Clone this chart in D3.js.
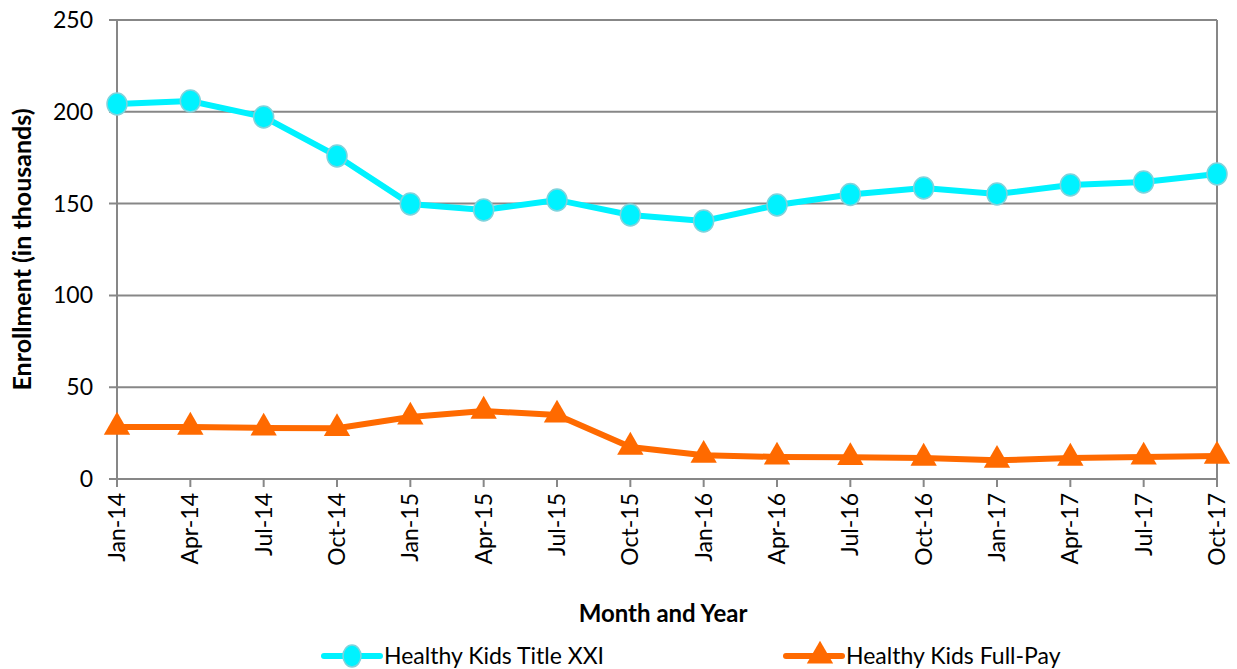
<!DOCTYPE html>
<html>
<head>
<meta charset="utf-8">
<script src="https://cdn.jsdelivr.net/npm/d3@7"></script>
<style>
  body { margin: 0; background: #fff; }
  svg text { font-family: Lato, "Open Sans", "Liberation Sans", sans-serif; fill: #000; }
</style>
</head>
<body>
<svg width="1237" height="669"></svg>
<script>
// categories and series
var months = ['Jan-14', 'Apr-14', 'Jul-14', 'Oct-14', 'Jan-15', 'Apr-15', 'Jul-15', 'Oct-15',
  'Jan-16', 'Apr-16', 'Jul-16', 'Oct-16', 'Jan-17', 'Apr-17', 'Jul-17', 'Oct-17'];
var titleXXI = [204.2, 205.9, 197.2, 175.9, 149.8, 146.5, 152.0, 143.8,
  140.5, 149.2, 155.0, 158.5, 155.2, 160.1, 161.8, 166.1];
var fullPay = [28.3, 28.3, 27.8, 27.6, 33.8, 37.0, 34.9, 17.4,
  13.0, 12.0, 11.8, 11.4, 10.2, 11.4, 12.0, 12.5];
var yTicks = [0, 50, 100, 150, 200, 250];

var svg = d3.select('svg');
var mLeft = 117, mRight = 1217, mTop = 20, mBottom = 479;

var x = d3.scalePoint()
  .domain(months)
  .range([mLeft, mRight]);

var y = d3.scaleLinear()
  .domain([0, 250])
  .range([mBottom, mTop]);

var gridColor = '#878787';

//* gridlines
svg.selectAll('.grid')
  .data(yTicks)
  .enter().append('line')
  .attr('x1', mLeft - 8)
  .attr('x2', mRight)
  .attr('y1', function (d) { return y(d); })
  .attr('y2', function (d) { return y(d); })
  .attr('stroke', gridColor)
  .attr('stroke-width', 2);

// left and right border lines
svg.append('line')
  .attr('x1', mLeft).attr('x2', mLeft)
  .attr('y1', mTop).attr('y2', mBottom + 8)
  .attr('stroke', gridColor).attr('stroke-width', 2);
svg.append('line')
  .attr('x1', mRight).attr('x2', mRight)
  .attr('y1', mTop).attr('y2', mBottom + 8)
  .attr('stroke', gridColor).attr('stroke-width', 2);

// x ticks
svg.selectAll('.xtick')
  .data(months)
  .enter().append('line')
  .attr('x1', function (d) { return x(d); })
  .attr('x2', function (d) { return x(d); })
  .attr('y1', mBottom)
  .attr('y2', mBottom + 8)
  .attr('stroke', gridColor)
  .attr('stroke-width', 2);

// y tick labels
svg.selectAll('.ylab')
  .data(yTicks)
  .enter().append('text')
  .attr('x', mLeft - 24)
  .attr('y', function (d) { return y(d); })
  .attr('dy', '0.35em')
  .attr('text-anchor', 'end')
  .style('font-size', '23px')
  .text(function (d) { return d; });

// x tick labels (rotated)
svg.selectAll('.xlab')
  .data(months)
  .enter().append('text')
  .attr('transform', function (d) { return 'translate(' + x(d) + ',' + (mBottom + 14) + ') rotate(-90)'; })
  .attr('dy', '0.35em')
  .attr('text-anchor', 'end')
  .style('font-size', '23px')
  .text(function (d) { return d; });

// axis titles
svg.append('text')
  .attr('transform', 'translate(31,' + ((mTop + mBottom) / 2) + ') rotate(-90)')
  .attr('text-anchor', 'middle')
  .style('font-size', '25px')
  .style('font-weight', 'bold')
  .text('Enrollment (in thousands)');

svg.append('text')
  .attr('x', 663)
  .attr('y', 622)
  .attr('text-anchor', 'middle')
  .style('font-size', '24px')
  .style('font-weight', 'bold')
  .text('Month and Year');

var line = d3.line()
  .x(function (d, i) { return x(months[i]); })
  .y(function (d) { return y(d); });

var cyan = '#00f2ff', orange = '#ff6a00';

// Title XXI series
svg.append('path')
  .datum(titleXXI)
  .attr('d', line)
  .attr('fill', 'none')
  .attr('stroke', cyan)
  .attr('stroke-width', 6);

svg.selectAll('.dotA')
  .data(titleXXI)
  .enter().append('ellipse')
  .attr('cx', function (d, i) { return x(months[i]); })
  .attr('cy', function (d) { return y(d); })
  .attr('rx', 10)
  .attr('ry', 11)
  .attr('fill', cyan)
  .attr('stroke', '#7fd3dc')
  .attr('stroke-width', 1.5);

// Full-Pay series
svg.append('path')
  .datum(fullPay)
  .attr('d', line)
  .attr('fill', 'none')
  .attr('stroke', orange)
  .attr('stroke-width', 6);

var tri = d3.symbol().type(d3.symbolTriangle).size(300);

svg.selectAll('.triB')
  .data(fullPay)
  .enter().append('path')
  .attr('d', tri)
  .attr('transform', function (d, i) { return 'translate(' + x(months[i]) + ',' + y(d) + ')'; })
  .attr('fill', orange);

//* legend
var legendItems = [
  { name: 'Healthy Kids Title XXI', color: cyan, shape: 'circle', x: 324 },
  { name: 'Healthy Kids Full-Pay', color: orange, shape: 'triangle', x: 786 }
];

var legend = svg.selectAll('.legend')
  .data(legendItems)
  .enter().append('g')
  .attr('class', 'legend')
  .attr('transform', function (d) { return 'translate(' + d.x + ',656)'; });

legend.append('line')
  .attr('x1', 0).attr('x2', 56)
  .attr('stroke', function (d) { return d.color; })
  .attr('stroke-width', 6)
  .attr('stroke-linecap', 'round');

legend.each(function (d) {
  var g = d3.select(this);
  if (d.shape === 'circle') {
    g.append('ellipse').attr('cx', 28).attr('rx', 9).attr('ry', 11)
      .attr('fill', d.color).attr('stroke', '#7fd3dc').attr('stroke-width', 1.5);
  } else {
    g.append('path').attr('d', tri).attr('transform', 'translate(34,0)').attr('fill', d.color);
  }
});

legend.append('text')
  .attr('x', 60)
  .attr('dy', '0.35em')
  .style('font-size', '23px')
  .text(function (d) { return d.name; });
</script>
</body>
</html>
